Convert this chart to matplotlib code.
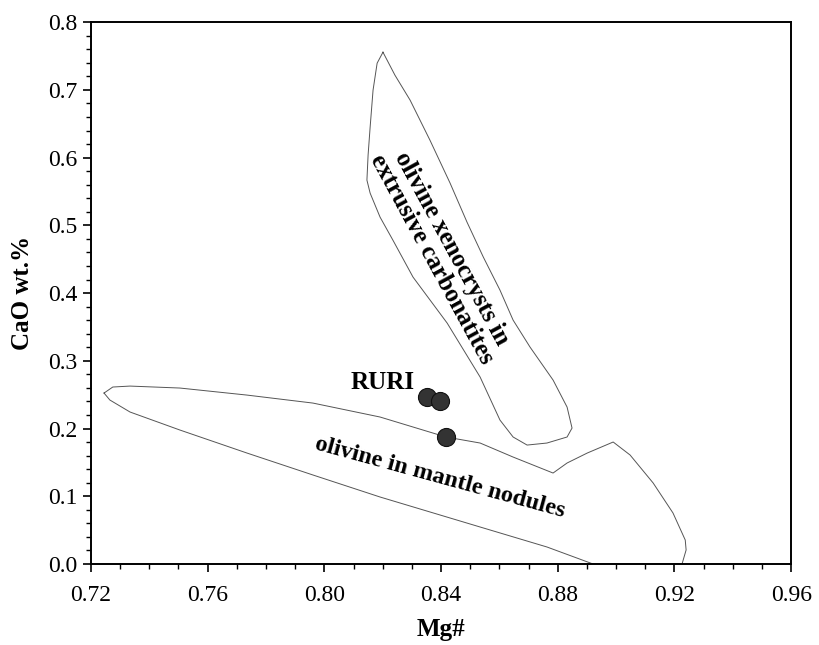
"""Mg# vs CaO wt.% for olivine fields and RURI samples."""

import matplotlib
matplotlib.use("Agg")
import matplotlib.pyplot as plt
from matplotlib.ticker import MultipleLocator

plt.rcParams['font.family'] = ['Liberation Serif', 'DejaVu Serif']

# field: olivine xenocrysts in extrusive carbonatites (outline)
xeno_mg = [0.8201, 0.8181, 0.8167, 0.8157, 0.8150, 0.8146, 0.8157, 0.8191, 0.8235,
           0.8304, 0.8421, 0.8534, 0.8602, 0.8647, 0.8695, 0.8763, 0.8832, 0.8849,
           0.8832, 0.8784, 0.8705, 0.8647, 0.8602, 0.8545, 0.8489, 0.8431, 0.8362,
           0.8294, 0.8242, 0.8201]
xeno_cao = [0.7557, 0.7395, 0.6996, 0.6450, 0.6037, 0.5668, 0.5476, 0.5122, 0.4782,
            0.4236, 0.3557, 0.2760, 0.2125, 0.1875, 0.1756, 0.1786, 0.1875, 0.2007,
            0.2317, 0.2716, 0.3203, 0.3601, 0.4044, 0.4531, 0.5048, 0.5624, 0.6258,
            0.6849, 0.7218, 0.7557]

# field: olivine in mantle nodules (outline)
mantle_mg = [0.7245, 0.7275, 0.7334, 0.7505, 0.7735, 0.7961, 0.8191, 0.8417, 0.8534,
             0.8647, 0.8784, 0.8832, 0.8901, 0.8990, 0.9048, 0.9127, 0.9195, 0.9237,
             0.9240, 0.9226, 0.8921, 0.8763, 0.8534, 0.8191, 0.7961, 0.7735, 0.7505,
             0.7334, 0.7265, 0.7245]
mantle_cao = [0.2524, 0.2613, 0.2627, 0.2598, 0.2494, 0.2376, 0.2170, 0.1875, 0.1786,
              0.1579, 0.1343, 0.1491, 0.1638, 0.1801, 0.1609, 0.1196, 0.0753, 0.0354,
              0.0207, 0.0, 0.0, 0.0251, 0.0546, 0.0989, 0.1314, 0.1638, 0.1978,
              0.2244, 0.2421, 0.2524]

# RURI olivines
ruri_mg = [0.8352, 0.8397, 0.8417]
ruri_cao = [0.247, 0.240, 0.1875]

fig = plt.figure(figsize=(8.19, 6.45), dpi=100)
ax = fig.add_axes([0.111, 0.1256, 0.855, 0.840])

ax.plot(xeno_mg, xeno_cao, color="#555555", lw=0.7)
ax.plot(mantle_mg, mantle_cao, color="#555555", lw=0.7)
ax.plot(ruri_mg, ruri_cao, "o", ms=13, mfc="#333333", mec="#111111", mew=0.8,
        linestyle="none", zorder=3)

ax.text(0.8201, 0.2686, "RURI", fontsize=18, fontweight="bold", ha="center", va="center")
ax.text(0.8397, 0.128, "olivine in mantle nodules", fontsize=17.5, fontweight="bold",
        rotation=-15.3, ha="center", va="center", rotation_mode="anchor")
ax.text(0.8403, 0.458, "olivine xenocrysts in\nextrusive carbonatites", fontsize=18,
        fontweight="bold", rotation=-61.5, ha="center", va="center",
        rotation_mode="anchor", linespacing=0.95)

ax.set_xlim(0.72, 0.96)
ax.set_ylim(0.0, 0.8)
ax.set_xticks([0.72, 0.76, 0.80, 0.84, 0.88, 0.92, 0.96])
ax.set_xticklabels(["0.72", "0.76", "0.80", "0.84", "0.88", "0.92", "0.96"])
ax.set_yticks([0.0, 0.1, 0.2, 0.3, 0.4, 0.5, 0.6, 0.7, 0.8])
ax.set_yticklabels(["0.0", "0.1", "0.2", "0.3", "0.4", "0.5", "0.6", "0.7", "0.8"])
ax.xaxis.set_minor_locator(MultipleLocator(0.01))
ax.yaxis.set_minor_locator(MultipleLocator(0.02))
ax.tick_params(which="major", direction="out", length=6, width=1.2, labelsize=17)
ax.tick_params(which="minor", direction="out", length=3.5, width=1.0)
ax.tick_params(axis="x", which="major", pad=9)
for s in ax.spines.values():
    s.set_linewidth(1.4)

ax.set_xlabel("Mg#", fontsize=18, fontweight="bold", labelpad=9)
ax.set_ylabel("CaO wt.%", fontsize=18, fontweight="bold", labelpad=10)

fig.savefig("out.png", dpi=100)
